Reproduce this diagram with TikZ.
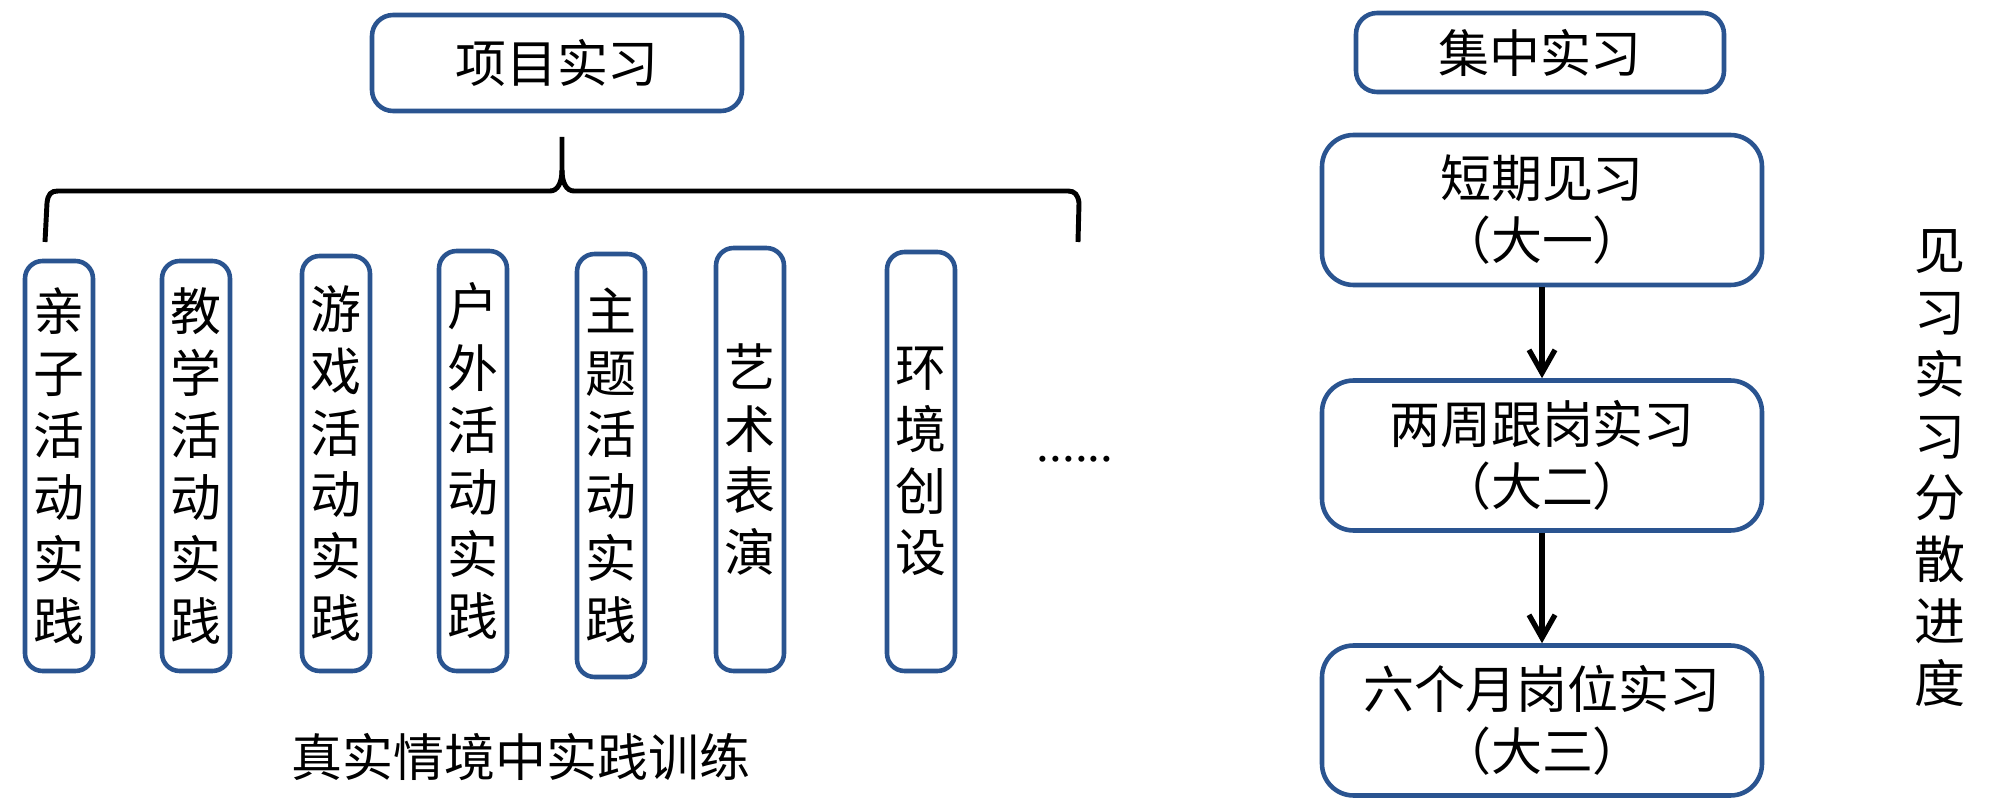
\documentclass[tikz,border=0pt]{standalone}
\usepackage{fontspec}
\setmainfont{Noto Sans CJK SC}
\newfontfamily\dotfont{Liberation Serif}
\usetikzlibrary{arrows.meta}
\definecolor{boxStroke}{HTML}{2A5490}
\definecolor{braceStroke}{HTML}{000000}

\begin{document}
\begin{tikzpicture}[
  font=\fontsize{14.5}{17.6}\selectfont,
  box/.style={rectangle,rounded corners=6pt,draw=boxStroke,line width=1.3pt,fill=white,align=center,inner sep=0pt},
  head/.style={box,minimum width=3.7cm,minimum height=.96cm},
  item/.style={box,minimum width=.68cm,rounded corners=5pt},
  stage/.style={box,minimum width=4.4cm,minimum height=1.5cm,rounded corners=9pt},
  flow/.style={-{Straight Barb[length=2.3mm,width=2.6mm]},line width=1.5pt,draw=black},
  brace/.style={line width=1.4pt,draw=braceStroke},
  caption/.style={align=center}
]
\useasboundingbox (0,0) rectangle (20,-8.03);
% left half: project practice
\node[head] (proj) at (5.57,-.63) {项目实习};
\draw[brace] (.45,-2.42) -- (.47,-2.03) .. controls (.48,-1.94) and (.51,-1.91) .. (.58,-1.91)
  -- (5.50,-1.91) .. controls (5.58,-1.91) and (5.62,-1.82) .. (5.62,-1.70) -- (5.62,-1.37);
\draw[brace] (5.62,-1.70) .. controls (5.62,-1.82) and (5.66,-1.91) .. (5.74,-1.91)
  -- (10.68,-1.91) .. controls (10.75,-1.91) and (10.78,-1.95) .. (10.79,-2.03) -- (10.78,-2.42);
\node[item,minimum height=4.10cm] (parent) at (.59,-4.66) {亲\\子\\活\\动\\实\\践};
\node[item,minimum height=4.10cm] (teach) at (1.96,-4.66) {教\\学\\活\\动\\实\\践};
\node[item,minimum height=4.15cm] (game) at (3.36,-4.635) {游\\戏\\活\\动\\实\\践};
\node[item,minimum height=4.20cm] (outdoor) at (4.73,-4.61) {户\\外\\活\\动\\实\\践};
\node[item,minimum height=4.23cm] (theme) at (6.11,-4.655) {主\\题\\活\\动\\实\\践};
\node[item,minimum height=4.23cm] (art) at (7.50,-4.595) {艺\\术\\表\\演};
\node[item,minimum height=4.19cm] (env) at (9.21,-4.615) {环\\境\\创\\设};
\node[anchor=base,font=\dotfont\fontsize{14.5}{17}\selectfont] (more) at (10.75,-4.62) {......};
\node (real) at (5.21,-7.57) {真实情境中实践训练};
% right half: concentrated practice
\node[head,minimum width=3.68cm,minimum height=.79cm] (conc) at (15.40,-.525) {集中实习};
\node[stage] (year1) at (15.42,-2.10) {短期见习\\（大一）};
\node[stage] (year2) at (15.42,-4.555) {两周跟岗实习\\（大二）};
\node[stage] (year3) at (15.42,-7.205) {六个月岗位实习\\（大三）};
\draw[flow] (year1) -- (year2);
\draw[flow] (year2) -- (year3);
\node[caption] (spread) at (19.40,-4.68) {见\\习\\实\\习\\分\\散\\进\\度};
\end{tikzpicture}
\end{document}
